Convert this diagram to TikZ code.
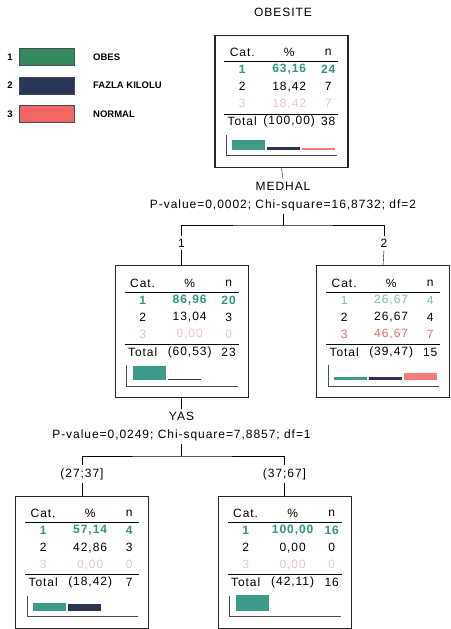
\documentclass[tikz,border=0pt]{standalone}
\usepackage{fontspec}
\setmainfont{Liberation Sans}[LetterSpace=8]
\newfontfamily\lejantfont{Liberation Sans}
\usepackage{tikz}

\definecolor{yesil}{HTML}{3C9C89}
\definecolor{lacivert}{HTML}{2B3450}
\definecolor{pembe}{HTML}{F47C7C}
\definecolor{lyesil}{HTML}{348A5E}
\definecolor{llacivert}{HTML}{2A3656}
\definecolor{lkirmizi}{HTML}{F26666}
\definecolor{yaziyesil}{HTML}{2F9480}
\definecolor{acikyesil}{HTML}{7DB8AC}
\definecolor{solukpembe}{HTML}{E8C6C6}
\definecolor{kirmizi}{HTML}{E46B6B}

\tikzset{
	kutu/.style={draw=black!85, line width=0.7pt, minimum width=133pt, minimum height=132pt, inner sep=0pt},
	hucre/.style={inner sep=0pt, font=\fontsize{12}{14}\selectfont},
	etiket/.style={inner sep=3pt, font=\fontsize{12}{14}\selectfont},
	bir/.style={hucre, text=yaziyesil, font=\fontsize{12}{14}\selectfont\bfseries},
	iki/.style={hucre, text=black},
	soluk/.style={hucre, text=solukpembe},
	acik/.style={hucre, text=acikyesil},
	kirmizi/.style={hucre, text=kirmizi},
	lejant/.style={inner sep=0pt, font=\lejantfont\fontsize{9.5}{10}\selectfont\bfseries},
	renkkutu/.style={draw=black!70, line width=0.4pt, minimum width=55pt, minimum height=17pt, inner sep=0pt}
}

% #1 kutu, #2 satirlar, #3 toplam yuzde, #4 toplam n, #5 cubuklar
\newcommand{\tablo}[5]{%
	\begin{scope}[shift={(#1.north west)}]
		\node[hucre] (#1-cat) at (28,18) {Cat.};
		\node[hucre] (#1-yuzde) at (75,18) {\%};
		\node[hucre] (#1-n) at (114,18) {n};
		\draw[line width=1pt] (10,27) -- (124,27);
		\foreach \kat/\yuz/\adet/\stil [count=\i] in {#2}
			{
			\node[\stil] (#1-k\i) at (28,18+17*\i) {\kat};
			\node[\stil] (#1-p\i) at (75,18+17*\i) {\yuz};
			\node[\stil] (#1-a\i) at (114,18+17*\i) {\adet};
			}
		\draw (10,79) -- (124,79);
		\node[hucre] (#1-top) at (28,87) {Total};
		\node[hucre] (#1-topp) at (75,87) {#3};
		\node[hucre] (#1-topn) at (114,87) {#4};
		\foreach \h/\renk [count=\i] in {#5}
			{\ifdim\h pt>0pt \fill[\renk] ({18+35*(\i-1)},115) rectangle ++(33,-\h);\fi}
		\draw[black!70, line width=0.6pt] (12,100) |- (123,121);
	\end{scope}}

\begin{document}
\begin{tikzpicture}[x=1pt, y=-1pt]
	\useasboundingbox (0,0) rectangle (450,629);

	% lejant
	\foreach \renk/\ad [count=\i] in {lyesil/OBES, llacivert/FAZLA KILOLU, lkirmizi/NORMAL}
		{
		\node[lejant] (no\i) at (10,28.5+28.5*\i) {\i};
		\node[renkkutu, fill=\renk] (renk\i) at (46.5,28.5+28.5*\i) {};
		\node[lejant, anchor=west] (ad\i) at (93,28.5+28.5*\i) {\ad};
		}

	% kutular
	\node[hucre] (baslik) at (283,12) {OBESITE};
	\node[kutu, line width=1.6pt] (kok) at (281.5,101.5) {};
	\node[etiket] (medhal) at (283,186) {MEDHAL};
	\node[etiket] (medhalp) at (283,205) {P-value=0,0002; Chi-square=16,8732; df=2};
	\node[etiket] (e1) at (181.5,243) {1};
	\node[etiket] (e2) at (384,243) {2};
	\node[kutu] (sol) at (181.5,331.5) {};
	\node[kutu] (sag) at (383,331.5) {};
	\node[etiket] (yas) at (181.5,416) {YAS};
	\node[etiket] (yasp) at (181.5,435) {P-value=0,0249; Chi-square=7,8857; df=1};
	\node[etiket] (a1) at (82,474) {(27;37]};
	\node[etiket] (a2) at (284.5,474) {(37;67]};
	\node[kutu] (ss) at (82,562) {};
	\node[kutu] (sd) at (284.5,562) {};

	% baglantilar
	\coordinate (d1) at (283,225);
	\coordinate (d2) at (181.5,456);
	\draw (kok.south) -- (medhal.north);
	\draw (medhalp.south) -- (d1);
	\draw (e1.north) |- (d1) -| (e2.north);
	\draw (e1.south) -- (sol.north);
	\draw (e2.south) -- (sag.north);
	\draw (sol.south) -- (yas.north);
	\draw (yasp.south) -- (d2);
	\draw (a1.north) |- (d2) -| (a2.north);
	\draw (a1.south) -- (ss.north);
	\draw (a2.south) -- (sd.north);

	% tablolar
	\tablo{kok}{1/{63,16}/24/bir, 2/{18,42}/7/iki, 3/{18,42}/7/soluk}{(100,00)}{38}{10/yesil, 2.5/lacivert, 1.5/pembe}
	\tablo{sol}{1/{86,96}/20/bir, 2/{13,04}/3/iki, 3/{0,00}/0/soluk}{(60,53)}{23}{14/yesil, 1/lacivert, 0/pembe}
	\tablo{sag}{1/{26,67}/4/acik, 2/{26,67}/4/iki, 3/{46,67}/7/kirmizi}{(39,47)}{15}{3/yesil, 3/lacivert, 7/pembe}
	\tablo{ss}{1/{57,14}/4/bir, 2/{42,86}/3/iki, 3/{0,00}/0/soluk}{(18,42)}{7}{8/yesil, 7/lacivert, 0/pembe}
	\tablo{sd}{1/{100,00}/16/bir, 2/{0,00}/0/iki, 3/{0,00}/0/soluk}{(42,11)}{16}{16/yesil, 0/lacivert, 0/pembe}
\end{tikzpicture}
\end{document}
